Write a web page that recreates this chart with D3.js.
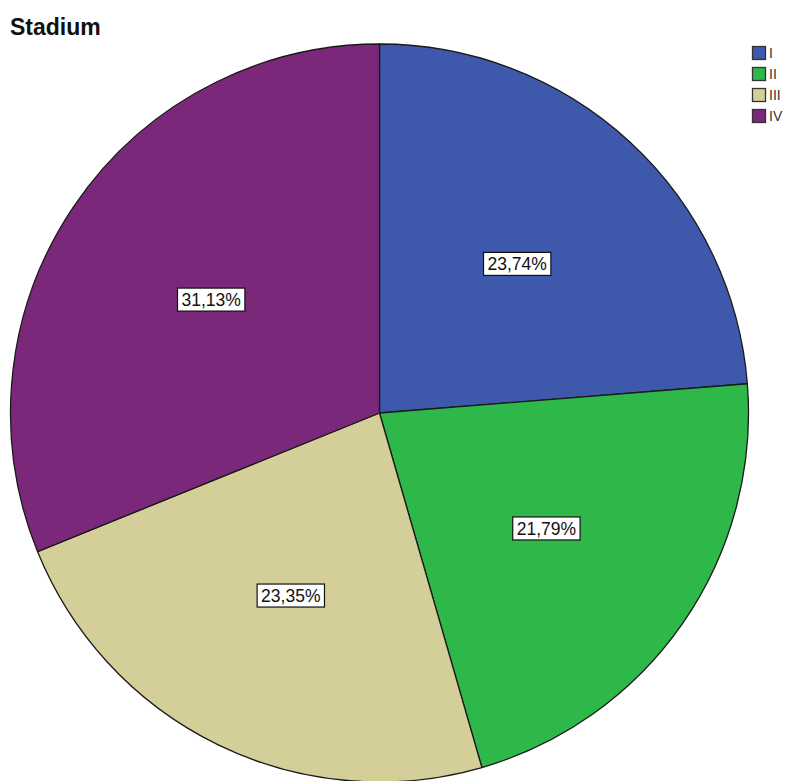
<!DOCTYPE html>
<html>
<head>
<meta charset="utf-8">
<script src="https://cdn.jsdelivr.net/npm/d3@7"></script>
<style>
  html, body { margin: 0; padding: 0; background: #fff; }
  svg { display: block; }
</style>
</head>
<body>
<svg id="chart" width="787" height="781"></svg>
<script>
// Stadium distribution (percent of cases)
const categories = ["I", "II", "III", "IV"];
const values = [23.74, 21.79, 23.35, 31.13];
const labels = ["23,74%", "21,79%", "23,35%", "31,13%"];
const colors = ["#3e59ac", "#2eb84a", "#d4cf98", "#7b287b"];

const svg = d3.select("#chart");
const W = 787;
const cx = 379.5, cy = 413, R = 369;

// Title
svg.append("text")
  .attr("x", 10).attr("y", 35)
  .attr("font-family", "Liberation Sans, Arial, sans-serif")
  .attr("font-weight", "bold")
  .attr("font-size", 23)
  .attr("fill", "#111")
  .text("Stadium");

const data = categories.map((c, i) => ({ cat: c, value: values[i], label: labels[i], color: colors[i] }));

const pie = d3.pie().value(d => d.value).sort(null);
const arc = d3.arc().innerRadius(0).outerRadius(R);
const labelArc = d3.arc().innerRadius(R * 0.55).outerRadius(R * 0.55);

const g = svg.append("g").attr("transform", `translate(${cx},${cy})`);
const arcs = pie(data);

g.selectAll("path.slice")
  .data(arcs)
  .enter().append("path")
  .attr("class", "slice")
  .attr("d", arc)
  .attr("fill", d => d.data.color)
  .attr("stroke", "#1a1a1a")
  .attr("stroke-width", 1.3)
  .attr("stroke-linejoin", "round");

// Value labels in boxed white tags
const lab = g.selectAll("g.lab")
  .data(arcs)
  .enter().append("g")
  .attr("class", "lab")
  .attr("transform", d => `translate(${labelArc.centroid(d)})`);

lab.each(function(d) {
  const gg = d3.select(this);
  const t = gg.append("text")
    .attr("text-anchor", "middle")
    .attr("dy", "0.36em")
    .attr("font-family", "Liberation Sans, Arial, sans-serif")
    .attr("font-size", 17.5)
    .attr("fill", "#111")
    .text(d.data.label);
  const bb = t.node().getBBox();
  gg.insert("rect", "text")
    .attr("x", bb.x - 4)
    .attr("y", -11.5)
    .attr("width", bb.width + 8)
    .attr("height", 23)
    .attr("fill", "#fff")
    .attr("stroke", "#111")
    .attr("stroke-width", 1.2);
});

// Legend
const leg = svg.append("g").attr("transform", "translate(752,46)");
const item = leg.selectAll("g.item")
  .data(data)
  .enter().append("g")
  .attr("class", "item")
  .attr("transform", (d, i) => `translate(0,${i * 21})`);

item.append("rect")
  .attr("x", 0.5).attr("y", 0.5)
  .attr("width", 13).attr("height", 13)
  .attr("fill", d => d.color)
  .attr("stroke", "#333")
  .attr("stroke-width", 1.3);

item.append("text")
  .attr("x", 17).attr("y", 7)
  .attr("dy", "0.36em")
  .attr("font-family", "Liberation Sans, Arial, sans-serif")
  .attr("font-size", 14)
  .attr("fill", "#333")
  .text(d => d.cat);
</script>
</body>
</html>
